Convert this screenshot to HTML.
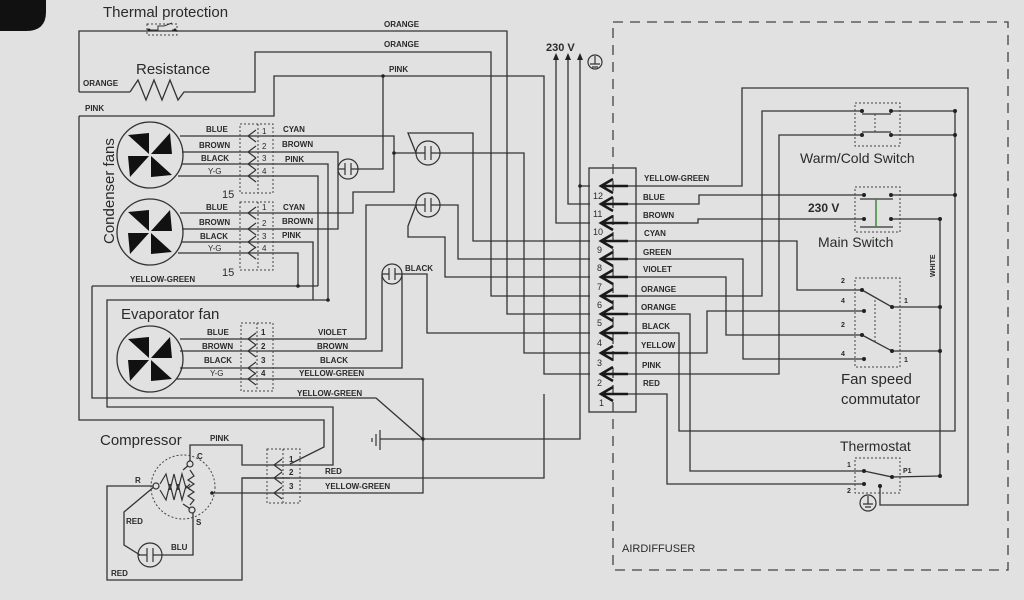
<!DOCTYPE html>
<html><head><meta charset="utf-8"><style>
html,body{margin:0;padding:0;background:#e1e1e1;}
svg{display:block}
text{font-family:"Liberation Sans",sans-serif;fill:#2a2a2a}
.s{font-size:8px;font-weight:bold}
.l{font-size:15px}
.n{font-size:8px}
</style></head><body>
<svg width="1024" height="600" viewBox="0 0 1024 600" xmlns="http://www.w3.org/2000/svg">
<rect width="1024" height="600" fill="#e1e1e1"/>
<path d="M0 0 H46 V12 Q46 31 26 31 H0 Z" fill="#111"/>
<g fill="none" stroke="#333" stroke-width="1.3">
<!-- thermal / resistance / pink top -->
<polyline points="79,92 79,31 507,31 507,314 590,314"/>
<polyline points="79,92 130,92"/>
<polyline points="130,92 138,80 146,100 154,80 162,100 170,80 178,100 184,92 255,92 255,52 491,52 491,296 590,296"/>
<polyline points="79,116 274,116 274,76 544,76 544,374 590,374"/>
<polyline points="383,76 383,169 358,169"/>
<!-- fan 1 -->
<polyline points="180,136 394,136 394,192 353,192 353,213 180,213"/>
<polyline points="182,152 338,152 338,229 182,229"/>
<polyline points="182,164 328,164 328,300 107,300 107,407 333,407 333,465 290,465"/>
<polyline points="178,176 318,176 318,286"/>
<polyline points="182,242 313,242 313,300"/>
<polyline points="178,253 298,253 298,286"/>
<polyline points="92,286 318,286"/>
<polyline points="92,286 92,398 376,398 423,439"/>
<polyline points="338,169 339,169"/>
<!-- caps wiring -->
<polyline points="394,153 416,153"/>
<polyline points="416,153 408,133 473,133 473,241 590,241"/>
<polyline points="440,153 524,153 524,353 590,353"/>
<polyline points="366,339 366,205 416,205"/>
<polyline points="440,205 458,205 458,259 590,259"/>
<polyline points="416,205 408,226 408,237 445,237 445,277 590,277"/>
<polyline points="382,274 382,351 180,351"/>
<polyline points="402,274 402,368 180,368"/>
<polyline points="402,274 427,274 427,333 590,333"/>
<polyline points="180,339 366,339"/>
<polyline points="176,379 423,379 423,493 212,493"/>
<!-- 230V -->
<polyline points="556,58 556,223 590,223"/>
<polyline points="568,58 568,204 590,204"/>
<polyline points="580,58 580,439 380,439"/>
<polyline points="580,186 590,186"/>
<polyline points="79,116 79,420 324,420 324,447 290,464"/>
<!-- compressor -->
<polyline points="190,464 190,445 242,445 242,465 290,465"/>
<polyline points="544,394 544,478 242,478 242,580 107,580 107,486 155,486"/>
<polyline points="242,478 290,478"/>
<polyline points="155,486 124,512 124,545 140,555"/>
<polyline points="162,555 193,555 193,510"/>
<polyline points="183,470 190,464"/>
<polyline points="183,504 192,510"/>
<!-- right side -->
<polyline points="628,186 742,186 742,88 968,88 968,505 880,505 880,486"/>
<polyline points="628,204 699,204 699,195 864,195"/>
<polyline points="891,195 955,195"/>
<polyline points="628,223 698,223 698,219 864,219"/>
<polyline points="891,219 940,219 940,476"/>
<polyline points="628,241 797,241 797,290 862,290"/>
<polyline points="628,259 743,259 743,359 864,359"/>
<polyline points="628,277 726,277 726,335 862,335"/>
<polyline points="628,296 762,296 762,111 862,111"/>
<polyline points="628,314 690,314 690,471 864,471"/>
<polyline points="628,333 679,333 679,431 955,431 955,111 891,111"/>
<polyline points="891,135 955,135"/>
<polyline points="628,353 707,353 707,311 864,311"/>
<polyline points="628,374 779,374 779,135 862,135"/>
<polyline points="628,394 667,394 667,484 864,484"/>
<polyline points="862,290 892,307 940,307"/>
<polyline points="862,335 892,351 940,351"/>
<polyline points="864,471 892,477 940,476"/>
<line x1="862" y1="114" x2="891" y2="114"/>
<line x1="862" y1="132" x2="891" y2="132"/>
<line x1="860" y1="199" x2="893" y2="199"/>
<line x1="860" y1="227" x2="893" y2="227"/>
<rect x="589" y="168" width="47" height="244"/>
</g>
<line x1="876" y1="199" x2="876" y2="227" stroke="#3a8a3a" stroke-width="1.5"/>
<!-- dashed airdiffuser -->
<g fill="none" stroke="#444" stroke-width="1.3" stroke-dasharray="10,7">
<polyline points="613,22 1008,22 1008,570 613,570 613,22"/>
</g>
<!-- dotted boxes -->
<g fill="none" stroke="#444" stroke-width="1" stroke-dasharray="2,2">
<rect x="147" y="24" width="30" height="11"/>
<rect x="240" y="124" width="33" height="69"/><line x1="258" y1="124" x2="258" y2="193"/>
<rect x="240" y="202" width="33" height="68"/><line x1="258" y1="202" x2="258" y2="270"/>
<rect x="241" y="323" width="32" height="68"/><line x1="257" y1="323" x2="257" y2="391"/>
<rect x="267" y="449" width="33" height="54"/><line x1="283" y1="449" x2="283" y2="503"/>
<rect x="855" y="103" width="45" height="43"/><line x1="875" y1="114" x2="875" y2="132"/>
<rect x="855" y="187" width="45" height="45"/>
<rect x="855" y="278" width="45" height="89"/><line x1="875" y1="300" x2="875" y2="343"/>
<rect x="855" y="458" width="45" height="35"/>
<circle cx="183" cy="487" r="32"/>
</g>
<!-- thermal switch -->
<path d="M150 30 h8 v-4 h6 l8 -3 M172 30 h4" fill="none" stroke="#333" stroke-width="1"/>
<!-- fans -->
<g stroke="#333" stroke-width="1.3" fill="none">
<circle cx="150" cy="155" r="33"/><circle cx="150" cy="232" r="33"/><circle cx="150" cy="359" r="33"/>
</g>
<g fill="#111">
<g transform="translate(150,155)"><polygon points="-1,-1 -22,-20 -1,-22"/><polygon points="1,-1 20,-22 22,-1"/><polygon points="1,1 22,20 1,22"/><polygon points="-1,1 -20,22 -22,1"/></g>
<g transform="translate(150,232)"><polygon points="-1,-1 -22,-20 -1,-22"/><polygon points="1,-1 20,-22 22,-1"/><polygon points="1,1 22,20 1,22"/><polygon points="-1,1 -20,22 -22,1"/></g>
<g transform="translate(150,359)"><polygon points="-1,-1 -22,-20 -1,-22"/><polygon points="1,-1 20,-22 22,-1"/><polygon points="1,1 22,20 1,22"/><polygon points="-1,1 -20,22 -22,1"/></g>
</g>
<!-- small connector chevrons -->
<g fill="none" stroke="#333" stroke-width="1.2">
<path d="M256,130 L248,136 L256,142 M256,146 L248,152 L256,158 M256,158 L248,164 L256,170 M256,170 L248,176 L256,182"/>
<path d="M256,207 L248,213 L256,219 M256,223 L248,229 L256,235 M256,236 L248,242 L256,248 M256,247 L248,253 L256,259"/>
<path d="M256,333 L248,339 L256,345 M256,345 L248,351 L256,357 M256,362 L248,368 L256,374 M256,373 L248,379 L256,385"/>
<path d="M282,459 L274,465 L282,471 M282,472 L274,478 L282,484 M282,487 L274,493 L282,499"/>
</g>
<!-- main connector chevrons -->
<g fill="none" stroke="#1a1a1a" stroke-width="2.6">
<path d="M613,179 L601,186 L613,193 M601,186 H628"/>
<path d="M613,197 L601,204 L613,211 M601,204 H628"/>
<path d="M613,216 L601,223 L613,230 M601,223 H628"/>
<path d="M613,234 L601,241 L613,248 M601,241 H628"/>
<path d="M613,252 L601,259 L613,266 M601,259 H628"/>
<path d="M613,270 L601,277 L613,284 M601,277 H628"/>
<path d="M613,289 L601,296 L613,303 M601,296 H628"/>
<path d="M613,307 L601,314 L613,321 M601,314 H628"/>
<path d="M613,326 L601,333 L613,340 M601,333 H628"/>
<path d="M613,346 L601,353 L613,360 M601,353 H628"/>
<path d="M613,367 L601,374 L613,381 M601,374 H628"/>
<path d="M613,387 L601,394 L613,401 M601,394 H628"/>
</g>
<!-- capacitors -->
<g fill="none" stroke="#333" stroke-width="1.2">
<circle cx="348" cy="169" r="10"/><path d="M339,169 H345 M345,163 V175 M351,163 V175 M351,169 H358"/>
<circle cx="428" cy="153" r="12"/><path d="M416,153 H425 M425,146 V160 M431,146 V160 M431,153 H440"/>
<circle cx="428" cy="205" r="12"/><path d="M416,205 H425 M425,198 V212 M431,198 V212 M431,205 H440"/>
<circle cx="392" cy="274" r="10"/><path d="M382,274 H389 M389,268 V280 M395,268 V280 M395,274 H402"/>
<circle cx="150" cy="555" r="12"/><path d="M138,555 H147 M147,548 V562 M153,548 V562 M153,555 H162"/>
<!-- compressor windings -->
<path d="M160,484 l6,-10 l4,16 l4,-16 l4,16 l4,-16 l4,14 l4,-4 M160,490 l6,10 l4,-16 l4,16 l4,-16 l4,16 l4,-14 l4,4"/>
<path d="M190,470 l4,6 l-6,4 l6,4 l-6,4 l6,4 l-6,4 l6,4 l-4,5"/>
<circle cx="190" cy="464" r="3" fill="#e1e1e1"/><circle cx="192" cy="510" r="3" fill="#e1e1e1"/><circle cx="156" cy="486" r="3" fill="#e1e1e1"/>
<!-- grounds -->
<path d="M380,430 V450 M376,434 V446 M372,438 V442"/>
<circle cx="595" cy="62" r="7"/><path d="M595,56 V64 M590,64 H600 M592,67 H598"/>
<circle cx="868" cy="503" r="8"/><path d="M868,496 V504 M863,504 H873 M865,507 H871"/>
</g>
<!-- 230V arrows -->
<g fill="#222"><path d="M553,60 L556,53 L559,60Z M565,60 L568,53 L571,60Z M577,60 L580,53 L583,60Z"/></g>
<!-- dots -->
<g fill="#222">
<circle cx="383" cy="76" r="1.8"/><circle cx="394" cy="153" r="1.8"/><circle cx="298" cy="286" r="1.8"/><circle cx="328" cy="300" r="1.8"/><circle cx="423" cy="439" r="1.8"/><circle cx="212" cy="493" r="1.8"/><circle cx="580" cy="186" r="1.8"/>
<circle cx="862" cy="111" r="2"/><circle cx="891" cy="111" r="2"/><circle cx="862" cy="135" r="2"/><circle cx="891" cy="135" r="2"/><circle cx="955" cy="111" r="2"/><circle cx="955" cy="135" r="2"/><circle cx="955" cy="195" r="2"/>
<circle cx="864" cy="195" r="2"/><circle cx="891" cy="195" r="2"/><circle cx="864" cy="219" r="2"/><circle cx="891" cy="219" r="2"/><circle cx="940" cy="219" r="2"/>
<circle cx="862" cy="290" r="2"/><circle cx="892" cy="307" r="2"/><circle cx="864" cy="311" r="2"/><circle cx="862" cy="335" r="2"/><circle cx="892" cy="351" r="2"/><circle cx="864" cy="359" r="2"/><circle cx="940" cy="307" r="2"/><circle cx="940" cy="351" r="2"/>
<circle cx="864" cy="471" r="2"/><circle cx="892" cy="477" r="2"/><circle cx="864" cy="484" r="2"/><circle cx="880" cy="486" r="2"/><circle cx="940" cy="476" r="2"/>
<circle cx="149" cy="30" r="1.5"/><circle cx="175" cy="30" r="1.5"/>
</g>
<!-- labels -->
<text class="l" x="103" y="17">Thermal protection</text>
<text class="l" x="136" y="74">Resistance</text>
<text class="l" x="121" y="319">Evaporator fan</text>
<text class="l" x="100" y="445">Compressor</text>
<text class="l" transform="translate(114,244) rotate(-90)">Condenser fans</text>
<text class="s" x="384" y="27">ORANGE</text>
<text class="s" x="384" y="47">ORANGE</text>
<text class="s" x="389" y="72">PINK</text>
<text class="s" x="83" y="86">ORANGE</text>
<text class="s" x="85" y="111">PINK</text>
<text class="s" x="206" y="132">BLUE</text><text class="s" x="199" y="148">BROWN</text><text class="s" x="201" y="161">BLACK</text><text class="n" x="208" y="174">Y-G</text>
<text class="s" x="283" y="132">CYAN</text><text class="s" x="282" y="147">BROWN</text><text class="s" x="285" y="162">PINK</text>
<text class="s" x="206" y="210">BLUE</text><text class="s" x="199" y="225">BROWN</text><text class="s" x="200" y="239">BLACK</text><text class="n" x="208" y="251">Y-G</text>
<text class="s" x="283" y="210">CYAN</text><text class="s" x="282" y="224">BROWN</text><text class="s" x="282" y="238">PINK</text>
<text x="222" y="198" style="font-size:11px">15</text><text x="222" y="276" style="font-size:11px">15</text>
<text class="s" x="130" y="282">YELLOW-GREEN</text>
<text class="s" x="207" y="335">BLUE</text><text class="s" x="202" y="349">BROWN</text><text class="s" x="204" y="363">BLACK</text><text class="n" x="210" y="376">Y-G</text>
<text class="s" x="318" y="335">VIOLET</text><text class="s" x="317" y="349">BROWN</text><text class="s" x="320" y="363">BLACK</text><text class="s" x="299" y="376">YELLOW-GREEN</text>
<text class="s" x="297" y="396">YELLOW-GREEN</text>
<text class="s" x="405" y="271">BLACK</text>
<text class="s" x="210" y="441">PINK</text>
<text class="s" x="197" y="459">C</text><text class="s" x="135" y="483">R</text><text class="s" x="196" y="525">S</text>
<text class="s" x="126" y="524">RED</text><text class="s" x="171" y="550">BLU</text><text class="s" x="111" y="576">RED</text>
<text class="s" x="325" y="474">RED</text><text class="s" x="325" y="489">YELLOW-GREEN</text>
<g class="n"><text class="n" x="262" y="134">1</text><text class="n" x="262" y="149">2</text><text class="n" x="262" y="161">3</text><text class="n" x="262" y="174">4</text>
<text class="n" x="262" y="210">1</text><text class="n" x="262" y="226">2</text><text class="n" x="262" y="239">3</text><text class="n" x="262" y="251">4</text>
<text class="s" x="261" y="335">1</text><text class="s" x="261" y="349">2</text><text class="s" x="261" y="363">3</text><text class="s" x="261" y="376">4</text>
<text class="s" x="289" y="462">1</text><text class="s" x="289" y="475">2</text><text class="s" x="289" y="489">3</text></g>
<text x="546" y="51" style="font-size:11px;font-weight:bold">230 V</text>
<g style="font-size:9px"><text x="593" y="199">12</text><text x="593" y="217">11</text><text x="593" y="235">10</text><text x="597" y="253">9</text><text x="597" y="271">8</text><text x="597" y="290">7</text><text x="597" y="308">6</text><text x="597" y="326">5</text><text x="597" y="346">4</text><text x="597" y="366">3</text><text x="597" y="386">2</text><text x="599" y="406">1</text></g>
<text class="s" x="644" y="181">YELLOW-GREEN</text><text class="s" x="643" y="200">BLUE</text><text class="s" x="643" y="218">BROWN</text><text class="s" x="644" y="236">CYAN</text><text class="s" x="643" y="255">GREEN</text><text class="s" x="643" y="272">VIOLET</text><text class="s" x="641" y="292">ORANGE</text><text class="s" x="641" y="310">ORANGE</text><text class="s" x="642" y="329">BLACK</text><text class="s" x="641" y="348">YELLOW</text><text class="s" x="642" y="368">PINK</text><text class="s" x="643" y="386">RED</text>
<text class="l" x="800" y="163" style="font-size:14px">Warm/Cold Switch</text>
<text x="808" y="212" style="font-size:12px;font-weight:bold">230  V</text>
<text class="l" x="818" y="247" style="font-size:14px">Main Switch</text>
<text class="l" x="841" y="384">Fan speed</text>
<text class="l" x="841" y="404">commutator</text>
<text class="l" x="840" y="451" style="font-size:14px">Thermostat</text>
<text style="font-size:7px;font-weight:bold" transform="translate(935,277) rotate(-90)">WHITE</text>
<g style="font-size:7px;font-weight:bold"><text x="841" y="283">2</text><text x="841" y="303">4</text><text x="841" y="327">2</text><text x="841" y="356">4</text><text x="904" y="303">1</text><text x="904" y="362">1</text><text x="847" y="467">1</text><text x="847" y="493">2</text><text x="903" y="473">P1</text></g>
<text x="622" y="552" style="font-size:11px">AIRDIFFUSER</text>
</svg>
</body></html>
